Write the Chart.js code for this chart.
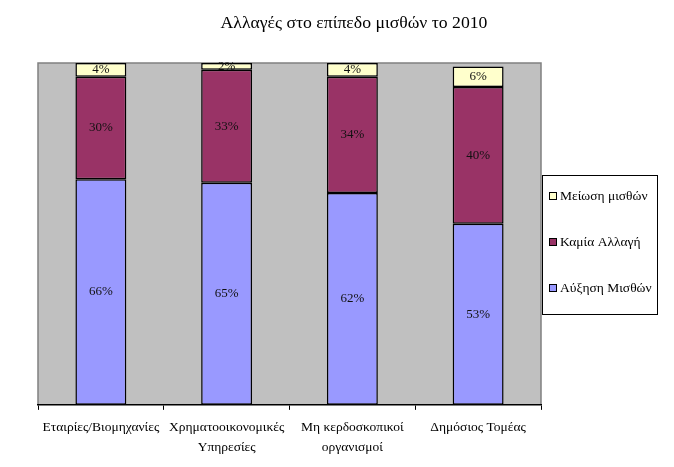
<!DOCTYPE html>
<html>
<head>
<meta charset="utf-8">
<script src="https://cdn.jsdelivr.net/npm/chart.js@4"></script>
<style>
html,body{margin:0;padding:0;background:#fff;}
#wrap{width:674px;height:467px;position:relative;}
</style>
</head>
<body>
<div id="wrap"><canvas id="c" width="674" height="467"></canvas></div>
<script>
const titleText = 'Αλλαγές στο επίπεδο μισθών το 2010';
const categories = ['Εταιρίες/Βιομηχανίες', ['Χρηματοοικονομικές', 'Υπηρεσίες'], ['Μη κερδοσκοπικοί', 'οργανισμοί'], 'Δημόσιος Τομέας'];
const seriesNames = ['Αύξηση Μισθών', 'Καμία Αλλαγή', 'Μείωση μισθών'];
const increase = [66, 65, 62, 53];
const noChange = [30, 33, 34, 40];
const decrease = [4, 2, 4, 6];
const seriesColors = ['#9999FF', '#993366', '#FFFFCC'];

const SERIF = '"Liberation Serif", "DejaVu Serif", serif';

const bgPlugin = {
  id: 'bg',
  beforeDraw(chart) {
    const {ctx, chartArea: a} = chart;
    ctx.save();
    ctx.fillStyle = '#C0C0C0';
    ctx.fillRect(a.left, a.top, a.right - a.left, a.bottom - a.top);
    ctx.strokeStyle = '#808080';
    ctx.lineWidth = 1.5;
    ctx.beginPath();
    ctx.moveTo(a.left, a.bottom);
    ctx.lineTo(a.left, a.top);
    ctx.lineTo(a.right, a.top);
    ctx.lineTo(a.right, a.bottom);
    ctx.stroke();
    ctx.restore();
  },
  afterDraw(chart) {
    const ctx = chart.ctx;
    ctx.save();
    // title
    ctx.fillStyle = '#000';
    ctx.font = '17.7px ' + SERIF;
    ctx.textAlign = 'center';
    ctx.textBaseline = 'middle';
    ctx.fillText(titleText, 354, 23);
    // data labels
    ctx.font = '13px ' + SERIF;
    ctx.fillStyle = '#111';
    chart.data.datasets.forEach((ds, di) => {
      const meta = chart.getDatasetMeta(di);
      meta.data.forEach((bar, i) => {
        const v = ds.data[i];
        const y = (bar.y + bar.base) / 2;
        ctx.fillText(v + '%', bar.x, y);
      });
    });
    // legend
    const lx = 542.5, ly = 175.5, lw = 115, lh = 139;
    ctx.fillStyle = '#fff';
    ctx.fillRect(lx, ly, lw, lh);
    ctx.strokeStyle = '#000';
    ctx.lineWidth = 1;
    ctx.strokeRect(lx, ly, lw, lh);
    ctx.textAlign = 'left';
    ctx.font = '13.5px ' + SERIF;
    const ys = [196, 242, 288];
    for (let k = 0; k < 3; k++) {
      const di = 2 - k;
      const y = ys[k];
      ctx.fillStyle = seriesColors[di];
      ctx.fillRect(549.5, y - 3.5, 7, 7);
      ctx.strokeStyle = '#000';
      ctx.strokeRect(549.5, y - 3.5, 7, 7);
      ctx.fillStyle = '#000';
      ctx.fillText(seriesNames[di], 560, y);
    }
    ctx.restore();
  }
};

const mk = (label, data, color) => ({
  label, data,
  backgroundColor: color,
  borderColor: '#000',
  borderWidth: 1.5,
  borderSkipped: false,
  barPercentage: 0.405,
  categoryPercentage: 1
});

new Chart(document.getElementById('c'), {
  type: 'bar',
  data: {
    labels: categories,
    datasets: [
      mk(seriesNames[0], increase, seriesColors[0]),
      mk(seriesNames[1], noChange, seriesColors[1]),
      mk(seriesNames[2], decrease, seriesColors[2])
    ]
  },
  options: {
    responsive: false,
    animation: false,
    devicePixelRatio: 1,
    layout: { padding: { left: 38, right: 133, top: 63, bottom: 2 } },
    plugins: { legend: { display: false }, title: { display: false }, tooltip: { enabled: false } },
    scales: {
      x: {
        stacked: true,
        grid: { display: true, drawOnChartArea: false, drawTicks: true, tickLength: 5, color: '#000', offset: true },
        border: { display: true, color: '#000', width: 1.5 },
        ticks: { color: '#000', font: { family: SERIF, size: 13.5, lineHeight: 1.45 }, maxRotation: 0, autoSkip: false, padding: 8 }
      },
      y: {
        stacked: true, display: false, min: 0, max: 100
      }
    }
  },
  plugins: [bgPlugin]
});
</script>
</body>
</html>
